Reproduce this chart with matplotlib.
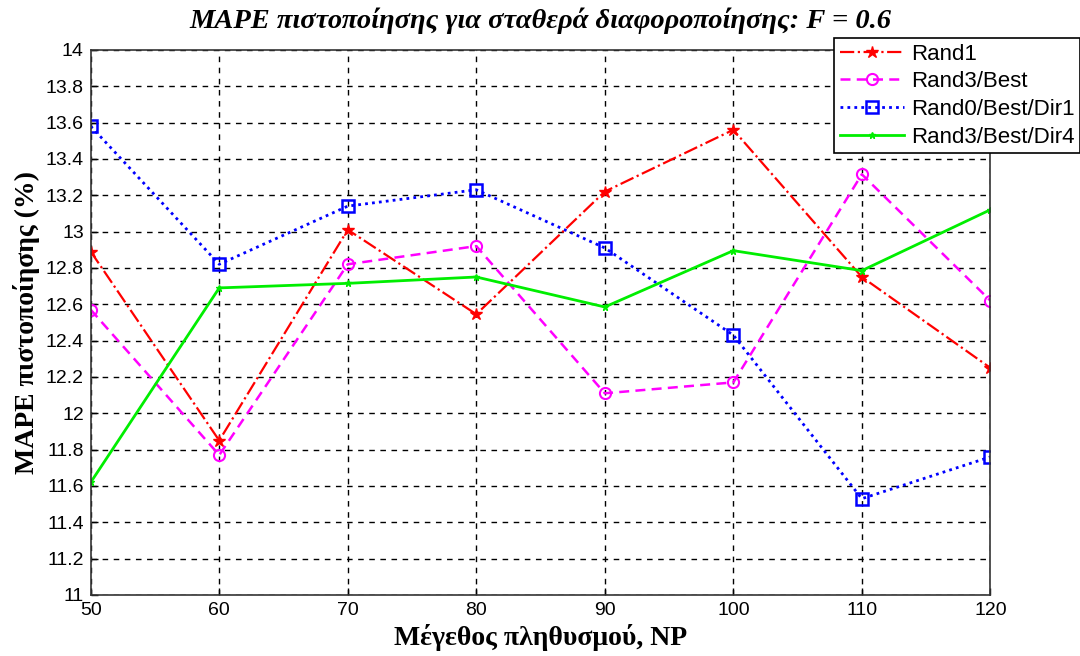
import matplotlib
matplotlib.use("Agg")
import matplotlib.pyplot as plt

np_sizes = [50, 60, 70, 80, 90, 100, 110, 120]
rand1 = [12.89, 11.85, 13.01, 12.545, 13.22, 13.56, 12.75, 12.25]
rand3_best = [12.57, 11.77, 12.82, 12.92, 12.11, 12.17, 13.315, 12.62]
rand0_best_dir1 = [13.58, 12.82, 13.14, 13.23, 12.91, 12.43, 11.53, 11.76]
rand3_best_dir4 = [11.62, 12.69, 12.715, 12.75, 12.585, 12.895, 12.785, 13.12]
series_labels = ["Rand1", "Rand3/Best", "Rand0/Best/Dir1", "Rand3/Best/Dir4"]
yticks = [11 + 0.2 * i for i in range(16)]
ytick_labels = ["11", "11.2", "11.4", "11.6", "11.8", "12", "12.2", "12.4", "12.6",
                "12.8", "13", "13.2", "13.4", "13.6", "13.8", "14"]

fig = plt.figure(figsize=(10.8, 6.56), dpi=100)
ax = fig.add_axes([0.084, 0.093, 0.833, 0.831])

ax.plot(np_sizes, rand1, color="red", linestyle="-.", linewidth=1.6,
        marker="*", markersize=9, markerfacecolor="red", markeredgecolor="red",
        label=series_labels[0])
ax.plot(np_sizes, rand3_best, color="magenta", linestyle=(0, (4, 2.5)), linewidth=1.8,
        marker="o", markersize=8, markerfacecolor="none", markeredgecolor="magenta",
        markeredgewidth=1.5, label=series_labels[1])
ax.plot(np_sizes, rand0_best_dir1, color="blue", linestyle=(0, (1, 1.5)), linewidth=2,
        marker="s", markersize=9, markerfacecolor="none", markeredgecolor="blue",
        markeredgewidth=1.8, label=series_labels[2])
ax.plot(np_sizes, rand3_best_dir4, color="#00ee00", linestyle="-", linewidth=2,
        marker="*", markersize=5, markerfacecolor="#00ee00", markeredgecolor="#00ee00",
        label=series_labels[3])

ax.set_xlim(50, 120)
ax.set_ylim(11, 14)
ax.set_xticks(np_sizes)
ax.set_xticklabels([str(v) for v in np_sizes], fontsize=14, family="Liberation Sans")
ax.set_yticks(yticks)
ax.set_yticklabels(ytick_labels, fontsize=14, family="Liberation Sans")
ax.tick_params(direction="in", length=5, width=1, colors="black", pad=5)
ax.grid(True, color="black", linestyle=(0, (4, 4)), linewidth=1)
for s in ax.spines.values():
    s.set_linewidth(1.2)
    s.set_color("#333333")

ax.set_title("MAPE πιστοποίησης για σταθερά διαφοροποίησης: F = 0.6",
             fontsize=20.5, fontweight="bold", fontstyle="italic",
             family="Liberation Serif", pad=16)
ax.set_xlabel("Μέγεθος πληθυσμού, NP", fontsize=20, fontweight="bold",
              family="Liberation Serif", labelpad=4)
ax.set_ylabel("MAPE πιστοποίησης (%)", fontsize=20, fontweight="bold",
              family="Liberation Serif", labelpad=4)

leg = ax.legend(loc="upper right", bbox_to_anchor=(1.0, 0.942),
                bbox_transform=fig.transFigure, fancybox=False,
                edgecolor="black", framealpha=1, borderaxespad=0,
                prop={"family": "Liberation Sans", "size": 16},
                handlelength=2.9, handletextpad=0.3, labelspacing=0.3,
                borderpad=0.25)
leg.get_frame().set_linewidth(1.2)

fig.savefig("out.png", dpi=100)
